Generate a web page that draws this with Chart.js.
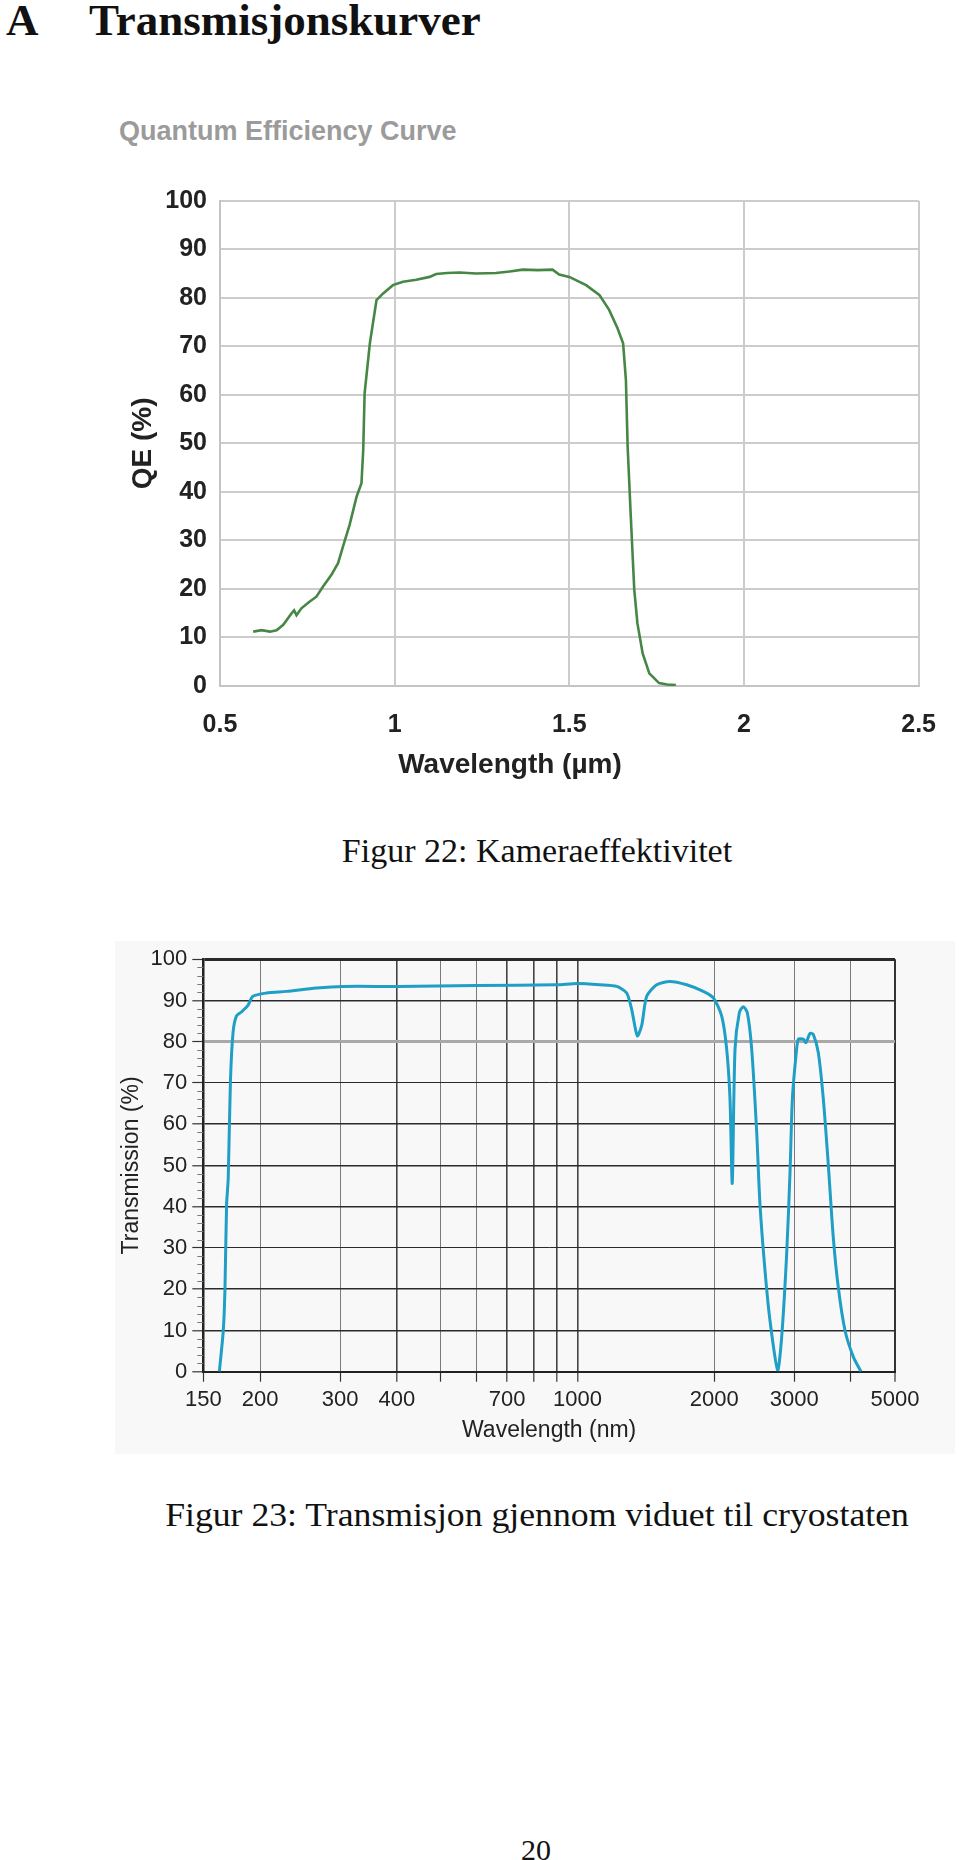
<!DOCTYPE html>
<html>
<head>
<meta charset="utf-8">
<script src="https://cdn.jsdelivr.net/npm/chart.js@4/dist/chart.umd.min.js"></script>
<style>
  html, body { margin: 0; padding: 0; background: #ffffff; width: 960px; height: 1860px; overflow: hidden; }
  .t { position: absolute; line-height: 0; white-space: nowrap; }
  .serif { font-family: "Liberation Serif", "DejaVu Serif", serif; color: #111; }
  canvas { position: absolute; }
</style>
</head>
<body>
<div class="t serif" style="left:6px; top:20px; font-size:45px; font-weight:bold;">A</div>
<div class="t serif" style="left:89px; top:20px; font-size:45px; font-weight:bold;">Transmisjonskurver</div>
<div class="t" style="left:119px; top:131px; font-family:'Liberation Sans', Arial, sans-serif; font-size:27px; font-weight:bold; color:#9b9b9b;">Quantum Efficiency Curve</div>

<canvas id="qe" width="860" height="650" style="left:100px; top:150px;"></canvas>

<div class="t serif" style="left:537px; top:851px; font-size:34px; transform:translateX(-50%);">Figur 22: Kameraeffektivitet</div>

<canvas id="tr" width="840" height="513" style="left:115px; top:941px; background:#f8f8f8;"></canvas>

<div class="t serif" style="left:537px; top:1515px; font-size:34px; transform:translateX(-50%) scaleX(1.05);">Figur 23: Transmisjon gjennom viduet til cryostaten</div>
<div class="t serif" style="left:536px; top:1850px; font-size:30px; transform:translateX(-50%);">20</div>

<script>
// ---------------- Data: Quantum efficiency curve ----------------
const qeWavelength = [0.595, 0.619, 0.643, 0.662, 0.681, 0.705, 0.712, 0.719, 0.733, 0.757, 0.776, 0.795,
  0.819, 0.838, 0.852, 0.871, 0.891, 0.905, 0.910, 0.914, 0.929, 0.948, 0.967, 0.995, 1.024, 1.062,
  1.100, 1.119, 1.150, 1.186, 1.233, 1.290, 1.329, 1.367, 1.410, 1.452, 1.471, 1.500, 1.548, 1.586,
  1.614, 1.638, 1.654, 1.662, 1.667, 1.676, 1.686, 1.695, 1.710, 1.729, 1.757, 1.780, 1.805];
const qeValues = [11.2, 11.5, 11.2, 11.5, 12.6, 15.0, 15.6, 14.6, 16.0, 17.4, 18.4, 20.5,
  22.9, 25.3, 28.7, 33.2, 39.0, 41.8, 48.6, 60.3, 70.6, 79.5, 80.9, 82.6, 83.3, 83.7,
  84.3, 84.9, 85.1, 85.2, 85.0, 85.1, 85.4, 85.8, 85.7, 85.8, 84.8, 84.3, 82.6, 80.6,
  77.5, 73.7, 70.6, 63.1, 49.3, 34.9, 19.8, 12.9, 6.7, 2.6, 0.6, 0.3, 0.2];
const qeXTickLabels = ['0.5', '1', '1.5', '2', '2.5'];
const qeYTickLabels = ['0', '10', '20', '30', '40', '50', '60', '70', '80', '90', '100'];

// ---------------- Data: Window transmission curve ----------------
const trWavelength = [162.7, 166.0, 167.4, 168.8, 170.2, 172.1, 174.4, 177.4, 181.9, 188.1, 192.9, 206.6,
  228.5, 266.1, 304.6, 400, 600, 900, 1000, 1120, 1220, 1283, 1316, 1354, 1385, 1420, 1494, 1598,
  1739, 1892, 1991, 2077, 2130, 2166, 2191, 2222, 2271, 2317, 2365, 2418, 2480, 2522, 2587, 2653,
  2758, 2815, 2887, 2937, 2972, 3027, 3063, 3141, 3184, 3249, 3304, 3389, 3476, 3566, 3657, 3751,
  3881, 4048, 4209];
const trValues = [0, 10, 20, 40.5, 46.9, 70.2, 82.2, 86.2, 87.2, 88.8, 91.0, 91.8,
  92.2, 93.0, 93.4, 93.4, 93.6, 93.8, 94.1, 93.8, 93.4, 91.8, 87.8, 81.4, 84.0, 91.0, 93.8, 94.6,
  93.8, 92.2, 90.6, 86.2, 78.2, 66.2, 45.7, 78.2, 87.0, 88.5, 87.0, 78.2, 58.1, 40.5, 24.5, 12.4,
  0.4, 8.4, 28.5, 48.5, 66.2, 76.6, 80.6, 80.6, 79.8, 82.0, 81.8, 77.4, 66.2, 50.1, 32.5, 20.4,
  10.0, 3.6, 0];
const trXGridValues = [150, 200, 300, 400, 500, 600, 700, 800, 900, 1000, 2000, 3000, 4000, 5000];
const trXTickLabels = [150, 200, 300, 400, 700, 1000, 2000, 3000, 5000];
const trYTickLabels = ['0', '10', '20', '30', '40', '50', '60', '70', '80', '90', '100'];

const SANS = "'Liberation Sans', Arial, Helvetica, sans-serif";

// ---------------- Chart 1 ----------------
new Chart(document.getElementById('qe'), {
  type: 'line',
  data: {
    datasets: [{
      data: qeWavelength.map((x, i) => ({ x: x, y: qeValues[i] })),
      borderColor: '#468746',
      borderWidth: 2.6,
      pointRadius: 0,
      tension: 0,
      fill: false
    }]
  },
  options: {
    responsive: false,
    animation: false,
    devicePixelRatio: 1,
    layout: { padding: { left: 0, top: 50.7, right: 40, bottom: 0 } },
    plugins: {
      legend: { display: false },
      tooltip: { enabled: false },
      title: {
        display: true, position: 'bottom', text: 'Wavelength (µm)', color: '#222',
        font: { family: SANS, size: 28, weight: 'bold', lineHeight: 1.2 },
        padding: { top: 0, bottom: 18.2 }
      }
    },
    scales: {
      x: {
        type: 'linear', min: 0.5, max: 2.5,
        afterFit: s => { s.height = 62.2; },
        ticks: {
          stepSize: 0.5, color: '#222', padding: 24, maxRotation: 0, autoSkip: false,
          font: { family: SANS, size: 25, weight: 'bold', lineHeight: 1.2 },
          callback: (v, i) => qeXTickLabels[i]
        },
        grid: { color: '#cccccc', lineWidth: 2, drawTicks: false },
        border: { display: true, color: '#c4c4c4', width: 2 }
      },
      y: {
        min: 0, max: 100,
        afterFit: s => { s.width = 120; },
        ticks: {
          stepSize: 10, color: '#222', padding: 13,
          font: { family: SANS, size: 25, weight: 'bold', lineHeight: 1.2 },
          callback: (v, i) => qeYTickLabels[i]
        },
        grid: { color: '#cccccc', lineWidth: 2, drawTicks: false },
        border: { display: true, color: '#c4c4c4', width: 2 },
        title: {
          display: true, text: 'QE (%)', color: '#222',
          font: { family: SANS, size: 28, weight: 'bold', lineHeight: 1.2 },
          padding: { top: 26.2, bottom: 0 }
        }
      }
    }
  }
});

// ---------------- Chart 2 ----------------
const minorTicks = {
  id: 'minorTicks',
  afterDraw(chart) {
    const ys = chart.scales.y;
    const left = chart.chartArea.left;
    const ctx = chart.ctx;
    ctx.save();
    ctx.strokeStyle = '#7a7a7a';
    ctx.lineWidth = 1;
    for (let v = ys.min + 2; v < ys.max; v += 2) {
      if (v % 10 === 0) continue;
      const py = Math.round(ys.getPixelForValue(v)) + 0.5;
      ctx.beginPath();
      ctx.moveTo(left - 6, py);
      ctx.lineTo(left, py);
      ctx.stroke();
    }
    ctx.restore();
  }
};

const yGridWidth = v => (v === 80 ? 3 : v === 100 ? 3 : (v === 70 || v === 30) ? 1 : 1.6);
const yGridColor = v => (v === 80 ? '#a9a9a9' : '#2a2a2a');
const darkX = [400, 700, 800, 900, 1000];
const xGridWidth = v => (v === 5000 ? 2 : darkX.includes(v) ? 1.6 : 1);
const xGridColor = v => (v === 5000 ? '#333' : darkX.includes(v) ? '#444' : '#7a7a7a');

new Chart(document.getElementById('tr'), {
  type: 'line',
  data: {
    datasets: [{
      data: trWavelength.map((x, i) => ({ x: x, y: trValues[i] })),
      borderColor: '#1f9ec6',
      borderWidth: 3,
      pointRadius: 0,
      tension: 0.25,
      fill: false
    }]
  },
  plugins: [minorTicks],
  options: {
    responsive: false,
    animation: false,
    devicePixelRatio: 1,
    layout: { padding: { left: 0, top: 15, right: 60, bottom: 0 } },
    plugins: { legend: { display: false }, tooltip: { enabled: false } },
    scales: {
      x: {
        type: 'logarithmic', min: 150, max: 5000,
        afterFit: s => { s.height = 82.3; },
        afterBuildTicks: s => { s.ticks = trXGridValues.map(v => ({ value: v })); },
        ticks: {
          color: '#222', padding: 5.1, maxRotation: 0, autoSkip: false,
          font: { family: SANS, size: 22, lineHeight: 1.2 },
          callback: v => (trXTickLabels.includes(v) ? String(v) : '')
        },
        grid: {
          color: c => xGridColor(c.tick.value),
          lineWidth: c => xGridWidth(c.tick.value),
          tickColor: '#333', tickLength: 10, tickWidth: 1.2
        },
        border: { display: true, color: '#222', width: 2 },
        title: {
          display: true, text: 'Wavelength (nm)', color: '#222',
          font: { family: SANS, size: 23, lineHeight: 1.2 },
          padding: { top: 0, bottom: 9.2 }
        }
      },
      y: {
        min: 0, max: 100,
        afterFit: s => { s.width = 88.3; },
        ticks: {
          stepSize: 10, color: '#222', padding: 5,
          font: { family: SANS, size: 22, lineHeight: 1.2 },
          callback: (v, i) => trYTickLabels[i]
        },
        grid: {
          color: c => yGridColor(c.tick.value),
          lineWidth: c => yGridWidth(c.tick.value),
          tickColor: '#333', tickLength: 11, tickWidth: 1.2
        },
        border: { display: true, color: '#222', width: 2.5 },
        title: {
          display: true, text: 'Transmission (%)', color: '#222',
          font: { family: SANS, size: 23, lineHeight: 1.2 },
          padding: { top: 2.9, bottom: 0 }
        }
      }
    }
  }
});
</script>
</body>
</html>
